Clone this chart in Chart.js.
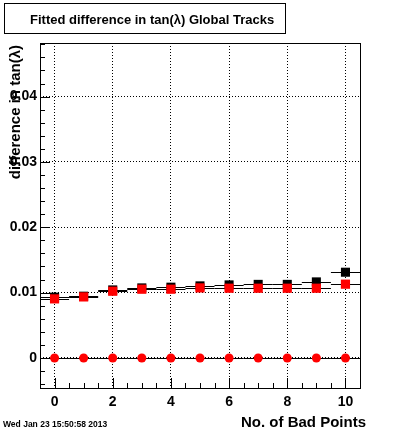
<!DOCTYPE html>
<html><head><meta charset="utf-8">
<script src="https://cdn.jsdelivr.net/npm/chart.js@4/dist/chart.umd.min.js"></script>
<style>html,body{margin:0;padding:0;background:#fff;}canvas{display:block;}</style>
</head><body>
<canvas id="c" width="400" height="433"></canvas>
<script>
const badPoints = [0, 1, 2, 3, 4, 5, 6, 7, 8, 9, 10];
const blackVals = [0.0093, 0.00945, 0.01041, 0.01072, 0.01083, 0.01103, 0.01118, 0.01126, 0.01126, 0.01164, 0.01312];
const redVals   = [0.00904, 0.00934, 0.01021, 0.01052, 0.01052, 0.01072, 0.01067, 0.01067, 0.01067, 0.01067, 0.01129];
const zeroVals  = [0, 0, 0, 0, 0, 0, 0, 0, 0, 0, 0];
const xTickValues = [0, 2, 4, 6, 8, 10];
const xTickLabels = ['0', '2', '4', '6', '8', '10'];
const yTickValues = [0, 0.01, 0.02, 0.03, 0.04];
const yTickLabels = ['0', '0.01', '0.02', '0.03', '0.04'];
const xRange = [-0.5, 10.5];
const yRange = [-0.0046, 0.0482];
const xMinorStep = 0.5;
const yMinorStep = 0.002;
const binHalfWidth = 0.5;
const titleText = 'Fitted difference in tan(λ) Global Tracks';
const yTitleText = 'difference in tan(λ)';
const xTitleText = 'No. of Bad Points';
const dateText = 'Wed Jan 23 15:50:58 2013';

const FONT = '"Liberation Sans", Arial, sans-serif';
Chart.defaults.font.family = FONT;
Chart.defaults.color = '#000';

function pts(vals) { return badPoints.map((x, i) => ({x: x, y: vals[i]})); }

const rootStyle = {
  id: 'rootStyle',
  beforeDatasetsDraw(chart) {
    const {ctx, scales: {x, y}} = chart;
    ctx.save();
    ctx.strokeStyle = '#000';
    ctx.lineWidth = 1;
    chart.data.datasets.forEach(ds => {
      if (!ds.steps) return;
      ds.data.forEach(p => {
        const py = Math.round(y.getPixelForValue(p.y)) + 0.5;
        ctx.beginPath();
        ctx.moveTo(x.getPixelForValue(p.x - binHalfWidth), py);
        ctx.lineTo(x.getPixelForValue(p.x + binHalfWidth), py);
        ctx.stroke();
      });
    });
    ctx.restore();
  },
  afterDraw(chart) {
    const {ctx, chartArea: a, scales: {x, y}} = chart;
    ctx.save();
    ctx.strokeStyle = '#000';
    ctx.lineWidth = 1;
    // frame
    ctx.strokeRect(a.left + 0.5, a.top + 0.5, a.right - a.left, a.bottom - a.top);
    // y ticks (inside)
    ctx.beginPath();
    for (let v = Math.ceil(yRange[0] / yMinorStep) * yMinorStep; v <= yRange[1] + 1e-9; v += yMinorStep) {
      const py = Math.round(y.getPixelForValue(v)) + 0.5;
      const major = yTickValues.some(t => Math.abs(t - v) < 1e-7);
      ctx.moveTo(a.left, py);
      ctx.lineTo(a.left + (major ? 10 : 5), py);
    }
    // x ticks (inside)
    for (let v = Math.ceil(xRange[0] / xMinorStep) * xMinorStep; v <= xRange[1] + 1e-9; v += xMinorStep) {
      const px = Math.round(x.getPixelForValue(v)) + 0.5;
      const major = xTickValues.some(t => Math.abs(t - v) < 1e-7);
      ctx.moveTo(px, a.bottom);
      ctx.lineTo(px, a.bottom - (major ? 10 : 5));
    }
    ctx.stroke();
    // title box
    ctx.strokeRect(4.5, 3.5, 281, 30);
    ctx.fillStyle = '#000';
    ctx.font = 'bold 13px ' + FONT;
    ctx.textAlign = 'left';
    ctx.textBaseline = 'alphabetic';
    ctx.fillText(titleText, 30, 24);
    // x title
    ctx.font = 'bold 15px ' + FONT;
    ctx.textAlign = 'right';
    ctx.fillText(xTitleText, 366, 427);
    // date
    ctx.font = 'bold 8.5px ' + FONT;
    ctx.textAlign = 'left';
    ctx.fillText(dateText, 3, 427);
    // y title
    ctx.translate(16, 45);
    ctx.rotate(-Math.PI / 2);
    ctx.font = 'bold 15px ' + FONT;
    ctx.textAlign = 'right';
    ctx.textBaseline = 'middle';
    ctx.fillText(yTitleText, 0, 0);
    ctx.restore();
  }
};

new Chart(document.getElementById('c'), {
  type: 'scatter',
  data: {
    datasets: [
      {data: pts(zeroVals), steps: true, pointStyle: 'circle', radius: 4.5, backgroundColor: '#ff0000', borderWidth: 0, order: 0},
      {data: pts(redVals), steps: true, pointStyle: 'rect', radius: 6.5, backgroundColor: '#ff0000', borderWidth: 0, order: 1},
      {data: pts(blackVals), steps: true, pointStyle: 'rect', radius: 6.4, backgroundColor: '#000000', borderWidth: 0, order: 2}
    ]
  },
  options: {
    responsive: false,
    animation: false,
    devicePixelRatio: 1,
    layout: {padding: {top: 43, right: 40, left: 0, bottom: 0}},
    plugins: {legend: {display: false}, tooltip: {enabled: false}, title: {display: false}},
    scales: {
      x: {
        type: 'linear', min: xRange[0], max: xRange[1],
        afterFit(s) { s.height = 45; },
        afterBuildTicks(s) { s.ticks = xTickValues.map(v => ({value: v})); },
        ticks: {
          padding: 6, maxRotation: 0, autoSkip: false,
          font: {size: 14, weight: 'bold'},
          callback: (v, i) => xTickLabels[i]
        },
        grid: {color: '#000', lineWidth: 1, drawTicks: false},
        border: {display: false, dash: [1, 2]}
      },
      y: {
        type: 'linear', min: yRange[0], max: yRange[1],
        afterFit(s) { s.width = 40; },
        afterBuildTicks(s) { s.ticks = yTickValues.map(v => ({value: v})); },
        ticks: {
          padding: 3, autoSkip: false,
          font: {size: 14, weight: 'bold'},
          callback: (v, i) => yTickLabels[i]
        },
        grid: {color: '#000', lineWidth: 1, drawTicks: false},
        border: {display: false, dash: [1, 2]}
      }
    }
  },
  plugins: [rootStyle]
});
</script>
</body></html>
